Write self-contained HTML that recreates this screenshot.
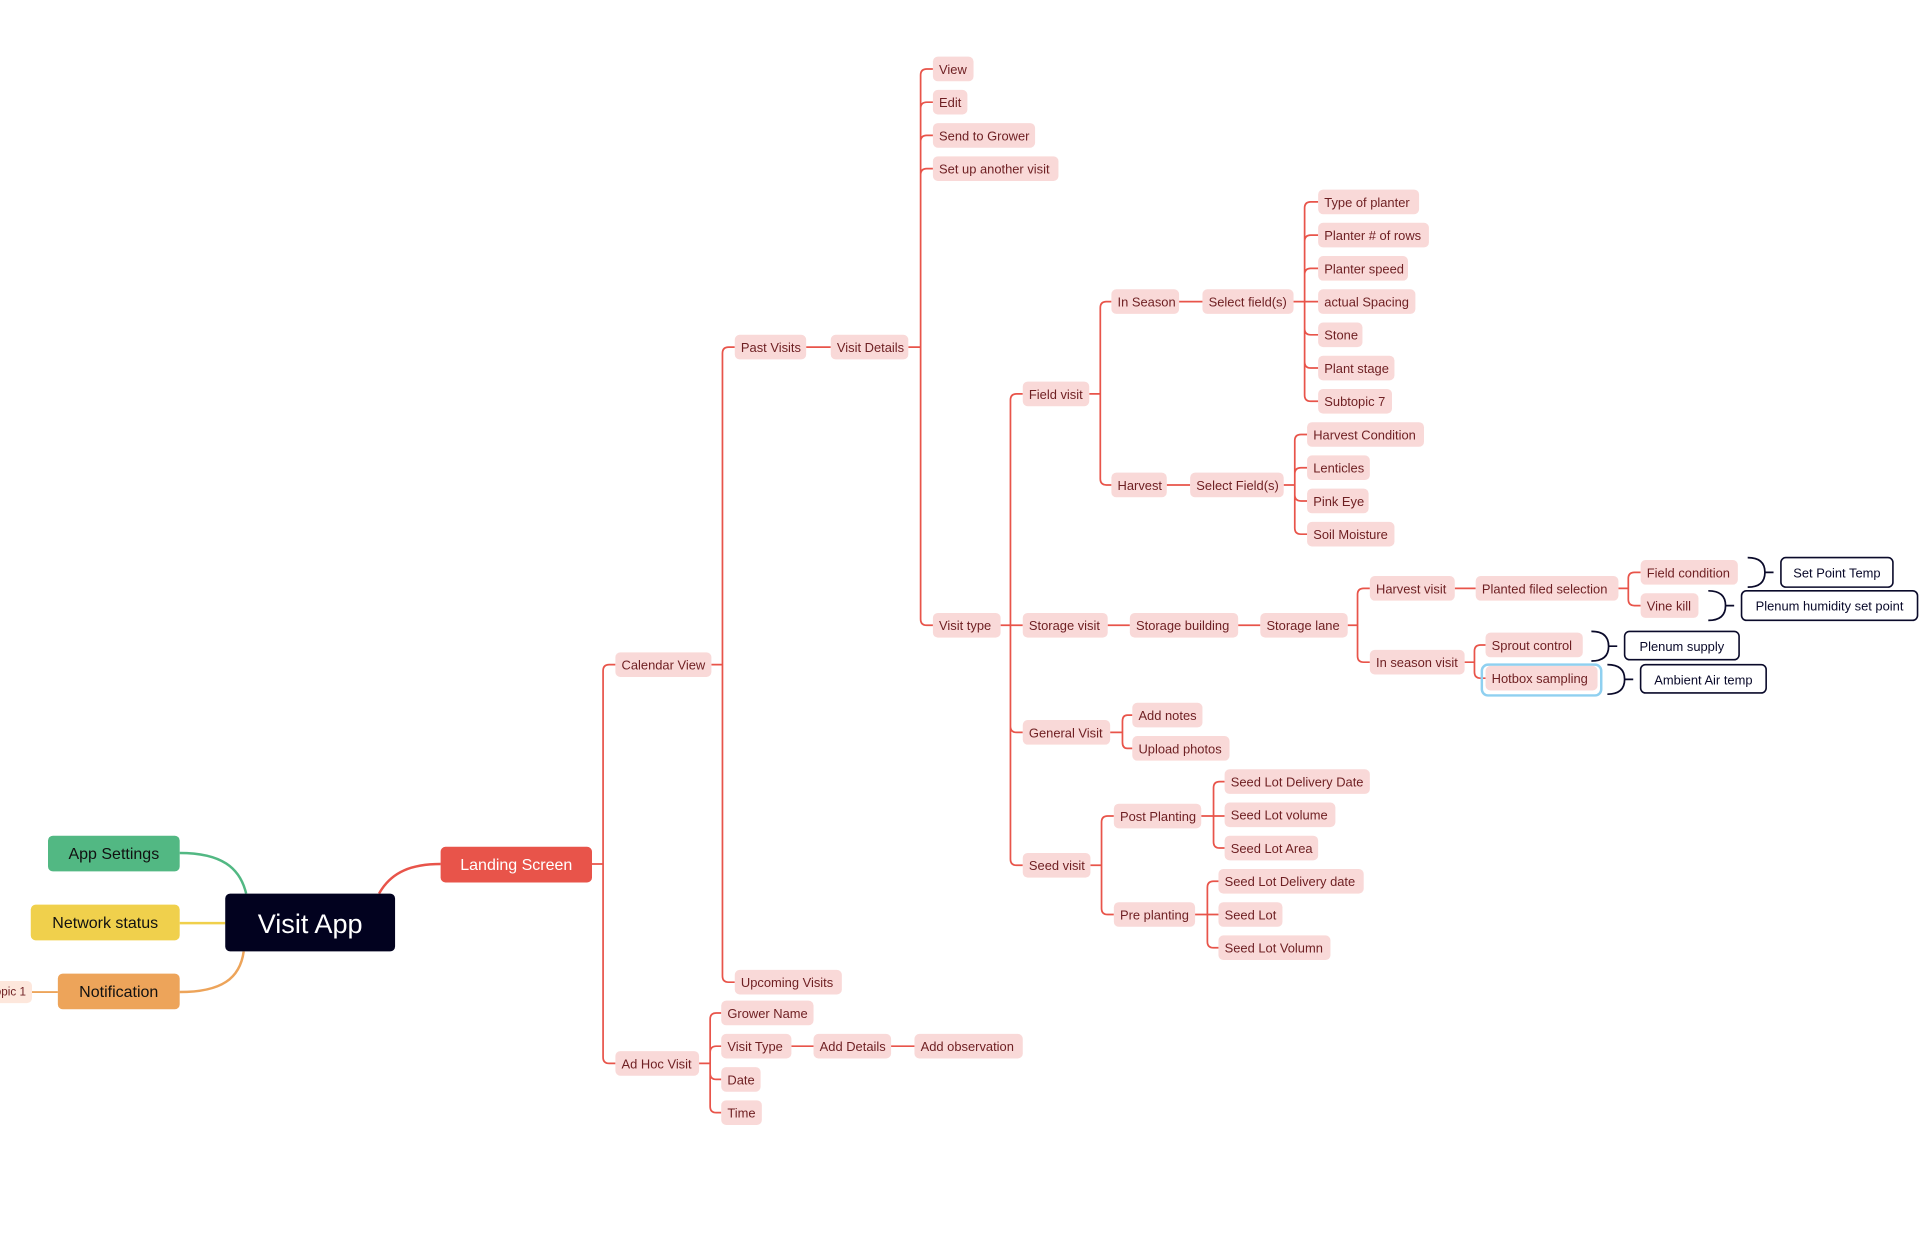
<!DOCTYPE html>
<html><head><meta charset="utf-8"><style>
html,body{margin:0;padding:0;background:#fff;width:1920px;height:1237px;overflow:hidden}
svg{display:block}
.n rect{fill:#f9d9d8}
.n text,text.t{font-family:"Liberation Sans",sans-serif;font-size:10.5px;fill:#6e1f22}
.l{fill:none;stroke:#e8544a;stroke-width:1.4}
.b{fill:none;stroke:#0a0a2a;stroke-width:1.4}
.o rect{fill:#fff;stroke:#0a0a2a;stroke-width:1.3}
.o text{font-family:"Liberation Sans",sans-serif;font-size:10.5px;fill:#0a0a2a}
</style></head><body>
<svg width="1920" height="1237" viewBox="0 0 1560 1005" xmlns="http://www.w3.org/2000/svg">
<path d="M146,693 C180,693 195,705 200,726" fill="none" stroke="#52b883" stroke-width="2"/>
<path d="M146,750 H183" fill="none" stroke="#f0d04c" stroke-width="2"/>
<path d="M146,806 C180,806 195,795 198,773" fill="none" stroke="#eda45a" stroke-width="2"/>
<path d="M26,806 H47" fill="none" stroke="#eda45a" stroke-width="1.5"/>
<path d="M308,726 C318,708 335,702 358,702" fill="none" stroke="#e8544a" stroke-width="2"/>

<g class="l">
<path d="M481,702 H490 M490,702 V545 Q490,540 495,540 H500 M490,702 V859 Q490,864 495,864 H500"/>
<path d="M578,540 H587 M587,540 V287 Q587,282 592,282 H597 M587,540 V793 Q587,798 592,798 H597"/>
<path d="M655,282 H675"/>
<path d="M738,282 H748 M748,282 V61 Q748,56 753,56 H758 M748,282 V88 Q748,83 753,83 H758 M748,282 V115 Q748,110 753,110 H758 M748,282 V142 Q748,137 753,137 H758 M748,282 V503 Q748,508 753,508 H758"/>
<path d="M813,508 H831 M821,508 V325 Q821,320 826,320 H831 M821,508 V590 Q821,595 826,595 H831 M821,508 V698 Q821,703 826,703 H831"/>
<path d="M885,320 H894 M894,320 V250 Q894,245 899,245 H903 M894,320 V389 Q894,394 899,394 H903"/>
<path d="M958,245 H977 M948,394 H967"/>
<path d="M1051,245 H1071 M1060,245 V169 Q1060,164 1065,164 H1071 M1060,245 V196 Q1060,191 1065,191 H1071 M1060,245 V223 Q1060,218 1065,218 H1071 M1060,245 V267 Q1060,272 1065,272 H1071 M1060,245 V294 Q1060,299 1065,299 H1071 M1060,245 V321 Q1060,326 1065,326 H1071"/>
<path d="M1043,394 H1052 M1052,394 V358 Q1052,353 1057,353 H1062 M1052,394 V385 Q1052,380 1057,380 H1062 M1052,394 V402 Q1052,407 1057,407 H1062 M1052,394 V429 Q1052,434 1057,434 H1062"/>
<path d="M900,508 H918 M1006,508 H1024"/>
<path d="M1095,508 H1103 M1103,508 V483 Q1103,478 1108,478 H1113 M1103,508 V533 Q1103,538 1108,538 H1113"/>
<path d="M1182,478 H1199"/>
<path d="M1315,478 H1323 M1323,478 V470 Q1323,465 1328,465 H1333 M1323,478 V487 Q1323,492 1328,492 H1333"/>
<path d="M1190,538 H1198 M1198,538 V529 Q1198,524 1203,524 H1207 M1198,538 V546 Q1198,551 1203,551 H1207"/>
<path d="M902,595 H912 M912,595 V586 Q912,581 916,581 H920 M912,595 V603 Q912,608 916,608 H920"/>
<path d="M886,703 H895 M895,703 V668 Q895,663 900,663 H905 M895,703 V738 Q895,743 900,743 H905"/>
<path d="M976,663 H986 M986,663 V640 Q986,635 991,635 H995 M986,663 H995 M986,663 V684 Q986,689 991,689 H995"/>
<path d="M971,743 H981 M981,743 V721 Q981,716 986,716 H990 M981,743 H990 M981,743 V765 Q981,770 986,770 H990"/>
<path d="M568,864 H577 M577,864 V828 Q577,823 582,823 H586 M577,864 V855 Q577,850 582,850 H586 M577,864 V872 Q577,877 582,877 H586 M577,864 V899 Q577,904 582,904 H586"/>
<path d="M643,850 H661 M724,850 H743"/>
</g>

<g class="b">
<path d="M1420,453 Q1434,453 1434,465 Q1434,477 1420,477 M1434,465 H1441"/>
<path d="M1388,480 Q1402,480 1402,492 Q1402,504 1388,504 M1402,492 H1409"/>
<path d="M1293,513 Q1307,513 1307,525 Q1307,537 1293,537 M1307,525 H1314"/>
<path d="M1306,540 Q1320,540 1320,552 Q1320,564 1306,564 M1320,552 H1327"/>
</g>

<rect x="183" y="726" width="138" height="47" rx="4" fill="#02021f"/>
<text x="252" y="758" text-anchor="middle" font-family="Liberation Sans,sans-serif" font-size="22" fill="#fff">Visit App</text>
<rect x="39" y="679" width="107" height="29" rx="4" fill="#52b883"/>
<text x="92.5" y="698" text-anchor="middle" font-family="Liberation Sans,sans-serif" font-size="13" fill="#111">App Settings</text>
<rect x="25" y="735" width="121" height="29" rx="4" fill="#f0d04c"/>
<text x="85.5" y="754" text-anchor="middle" font-family="Liberation Sans,sans-serif" font-size="13" fill="#111">Network status</text>
<rect x="47" y="791" width="99" height="29" rx="4" fill="#eda45a"/>
<text x="96.5" y="810" text-anchor="middle" font-family="Liberation Sans,sans-serif" font-size="13" fill="#111">Notification</text>
<rect x="-20" y="797" width="46" height="18" rx="4" fill="#fde7dc"/>
<text x="-9" y="809" font-family="Liberation Sans,sans-serif" font-size="9.5" fill="#6e1f22">Topic 1</text>
<rect x="358" y="688" width="123" height="29" rx="4" fill="#e8544a"/>
<text x="419.5" y="707" text-anchor="middle" font-family="Liberation Sans,sans-serif" font-size="13" fill="#fff">Landing Screen</text>

<rect x="1204" y="540" width="97" height="25" rx="5" fill="none" stroke="#8fd0f0" stroke-width="2"/>

<g class="n">
<rect x="500" y="530" width="78" height="20" rx="4"/><text x="505" y="544">Calendar View</text>
<rect x="500" y="854" width="68" height="20" rx="4"/><text x="505" y="868">Ad Hoc Visit</text>
<rect x="597" y="272" width="58" height="20" rx="4"/><text x="602" y="286">Past Visits</text>
<rect x="597" y="788" width="87" height="20" rx="4"/><text x="602" y="802">Upcoming Visits</text>
<rect x="675" y="272" width="63" height="20" rx="4"/><text x="680" y="286">Visit Details</text>
<rect x="758" y="46" width="33" height="20" rx="4"/><text x="763" y="60">View</text>
<rect x="758" y="73" width="28" height="20" rx="4"/><text x="763" y="87">Edit</text>
<rect x="758" y="100" width="83" height="20" rx="4"/><text x="763" y="114">Send to Grower</text>
<rect x="758" y="127" width="102" height="20" rx="4"/><text x="763" y="141">Set up another visit</text>
<rect x="758" y="498" width="55" height="20" rx="4"/><text x="763" y="512">Visit type</text>
<rect x="831" y="310" width="54" height="20" rx="4"/><text x="836" y="324">Field visit</text>
<rect x="831" y="498" width="69" height="20" rx="4"/><text x="836" y="512">Storage visit</text>
<rect x="831" y="585" width="71" height="20" rx="4"/><text x="836" y="599">General Visit</text>
<rect x="831" y="693" width="55" height="20" rx="4"/><text x="836" y="707">Seed visit</text>
<rect x="903" y="235" width="55" height="20" rx="4"/><text x="908" y="249">In Season</text>
<rect x="903" y="384" width="45" height="20" rx="4"/><text x="908" y="398">Harvest</text>
<rect x="977" y="235" width="74" height="20" rx="4"/><text x="982" y="249">Select field(s)</text>
<rect x="967" y="384" width="76" height="20" rx="4"/><text x="972" y="398">Select Field(s)</text>
<rect x="1071" y="154" width="82" height="20" rx="4"/><text x="1076" y="168">Type of planter</text>
<rect x="1071" y="181" width="90" height="20" rx="4"/><text x="1076" y="195">Planter # of rows</text>
<rect x="1071" y="208" width="73" height="20" rx="4"/><text x="1076" y="222">Planter speed</text>
<rect x="1071" y="235" width="79" height="20" rx="4"/><text x="1076" y="249">actual Spacing</text>
<rect x="1071" y="262" width="36" height="20" rx="4"/><text x="1076" y="276">Stone</text>
<rect x="1071" y="289" width="62" height="20" rx="4"/><text x="1076" y="303">Plant stage</text>
<rect x="1071" y="316" width="60" height="20" rx="4"/><text x="1076" y="330">Subtopic 7</text>
<rect x="1062" y="343" width="95" height="20" rx="4"/><text x="1067" y="357">Harvest Condition</text>
<rect x="1062" y="370" width="51" height="20" rx="4"/><text x="1067" y="384">Lenticles</text>
<rect x="1062" y="397" width="50" height="20" rx="4"/><text x="1067" y="411">Pink Eye</text>
<rect x="1062" y="424" width="71" height="20" rx="4"/><text x="1067" y="438">Soil Moisture</text>
<rect x="918" y="498" width="88" height="20" rx="4"/><text x="923" y="512">Storage building</text>
<rect x="1024" y="498" width="71" height="20" rx="4"/><text x="1029" y="512">Storage lane</text>
<rect x="1113" y="468" width="69" height="20" rx="4"/><text x="1118" y="482">Harvest visit</text>
<rect x="1113" y="528" width="77" height="20" rx="4"/><text x="1118" y="542">In season visit</text>
<rect x="1199" y="468" width="116" height="20" rx="4"/><text x="1204" y="482">Planted filed selection</text>
<rect x="1333" y="455" width="79" height="20" rx="4"/><text x="1338" y="469">Field condition</text>
<rect x="1333" y="482" width="47" height="20" rx="4"/><text x="1338" y="496">Vine kill</text>
<rect x="1207" y="514" width="79" height="20" rx="4"/><text x="1212" y="528">Sprout control</text>
<rect x="1207" y="541" width="91" height="20" rx="4"/><text x="1212" y="555">Hotbox sampling</text>
<rect x="920" y="571" width="57" height="20" rx="4"/><text x="925" y="585">Add notes</text>
<rect x="920" y="598" width="79" height="20" rx="4"/><text x="925" y="612">Upload photos</text>
<rect x="905" y="653" width="71" height="20" rx="4"/><text x="910" y="667">Post Planting</text>
<rect x="905" y="733" width="66" height="20" rx="4"/><text x="910" y="747">Pre planting</text>
<rect x="995" y="625" width="118" height="20" rx="4"/><text x="1000" y="639">Seed Lot Delivery Date</text>
<rect x="995" y="652" width="90" height="20" rx="4"/><text x="1000" y="666">Seed Lot volume</text>
<rect x="995" y="679" width="76" height="20" rx="4"/><text x="1000" y="693">Seed Lot Area</text>
<rect x="990" y="706" width="118" height="20" rx="4"/><text x="995" y="720">Seed Lot Delivery date</text>
<rect x="990" y="733" width="52" height="20" rx="4"/><text x="995" y="747">Seed Lot</text>
<rect x="990" y="760" width="91" height="20" rx="4"/><text x="995" y="774">Seed Lot Volumn</text>
<rect x="586" y="813" width="75" height="20" rx="4"/><text x="591" y="827">Grower Name</text>
<rect x="586" y="840" width="57" height="20" rx="4"/><text x="591" y="854">Visit Type</text>
<rect x="586" y="867" width="32" height="20" rx="4"/><text x="591" y="881">Date</text>
<rect x="586" y="894" width="33" height="20" rx="4"/><text x="591" y="908">Time</text>
<rect x="661" y="840" width="63" height="20" rx="4"/><text x="666" y="854">Add Details</text>
<rect x="743" y="840" width="88" height="20" rx="4"/><text x="748" y="854">Add observation</text>
</g>

<g class="o">
<rect x="1447" y="453" width="91" height="24" rx="4"/><text x="1492.5" y="469" text-anchor="middle">Set Point Temp</text>
<rect x="1415" y="480" width="143" height="24" rx="4"/><text x="1486.5" y="496" text-anchor="middle">Plenum humidity set point</text>
<rect x="1320" y="513" width="93" height="23" rx="4"/><text x="1366.5" y="529" text-anchor="middle">Plenum supply</text>
<rect x="1333" y="540" width="102" height="23" rx="4"/><text x="1384" y="556" text-anchor="middle">Ambient Air temp</text>
</g>
</svg>
</body></html>
